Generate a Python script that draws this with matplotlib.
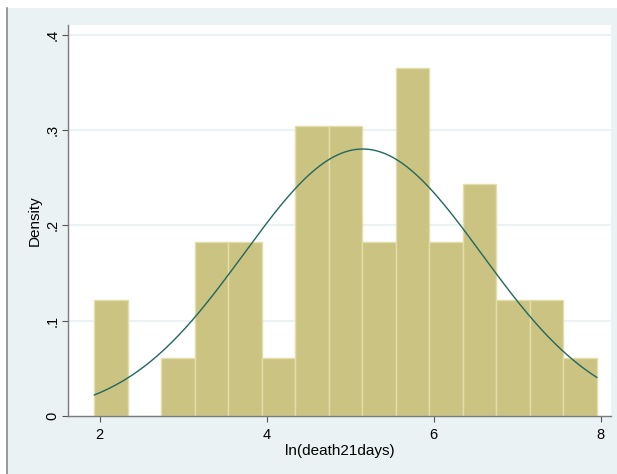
import numpy as np
import matplotlib
matplotlib.use("Agg")
import matplotlib.pyplot as plt
from matplotlib.patches import Rectangle
from matplotlib.lines import Line2D

plt.rcParams['font.family'] = ['Liberation Sans', 'DejaVu Sans']

# Histogram of ln(death21days): 15 equal-width bins
bin_start = 1.939
bin_width = 0.4009
bin_counts = [2, 0, 1, 3, 3, 1, 5, 5, 3, 6, 3, 4, 2, 2, 1]

# Fitted normal density parameters
fit_mean = 5.15
fit_sd = 1.425

y_ticks = [0, 0.1, 0.2, 0.3, 0.4]
y_tick_labels = ["0", ".1", ".2", ".3", ".4"]
x_ticks = [2, 4, 6, 8]
x_tick_labels = ["2", "4", "6", "8"]

W, H = 617, 474
fig = plt.figure(figsize=(W / 100, H / 100), dpi=100, facecolor="white")

# outer graph region (drawn beneath the axes)
fig.patches.append(Rectangle((7 / W, 0), 1 - 7 / W, 1 - 8 / H, transform=fig.transFigure,
                             facecolor="#EAF2F3", edgecolor="none", zorder=-10))
fig.lines.append(Line2D([6.5 / W, 6.5 / W], [0, 1 - 8 / H], transform=fig.transFigure,
                        color="#8a8a8a", linewidth=1.2, zorder=-9))

left, right, top, bottom = 68, 611, 25, 416
ax = fig.add_axes([left / W, 1 - bottom / H, (right - left) / W, (bottom - top) / H])
ax.set_zorder(1)
ax.set_facecolor("white")

n = sum(bin_counts)
density = [c / (n * bin_width) for c in bin_counts]
edges = [bin_start + i * bin_width for i in range(len(bin_counts))]
ax.bar(edges, density, width=bin_width, align="edge", color="#CBC382",
       edgecolor="#E3DDAA", linewidth=1.0, zorder=2)

xs = np.linspace(bin_start, bin_start + bin_width * len(bin_counts), 300)
pdf = np.exp(-0.5 * ((xs - fit_mean) / fit_sd) ** 2) / (fit_sd * np.sqrt(2 * np.pi))
ax.plot(xs, pdf, color="#22675F", linewidth=1.0, zorder=3)

ax.set_xlim(1.622, 8.122)
ax.set_ylim(0, 0.41)

for y in y_ticks[1:]:
    ax.axhline(y, color="#EAF2F3", linewidth=1.5, zorder=1)

ax.set_yticks(y_ticks)
ax.set_yticklabels(y_tick_labels, rotation=90, va="center")
ax.set_xticks(x_ticks)
ax.set_xticklabels(x_tick_labels)
ax.tick_params(axis="both", direction="out", length=4.5, width=0.8, color="#555555",
               labelsize=10.5, labelcolor="black")
ax.tick_params(axis="y", pad=1.5)
ax.tick_params(axis="x", pad=4)

for s in ["top", "right"]:
    ax.spines[s].set_visible(False)
for s in ["left", "bottom"]:
    ax.spines[s].set_color("#7a7a7a")
    ax.spines[s].set_linewidth(1.0)

ax.set_xlabel("ln(death21days)", fontsize=11, labelpad=1.5)
ax.set_ylabel("Density", fontsize=11, labelpad=3)

fig.savefig("out.png", dpi=100, facecolor="white")
